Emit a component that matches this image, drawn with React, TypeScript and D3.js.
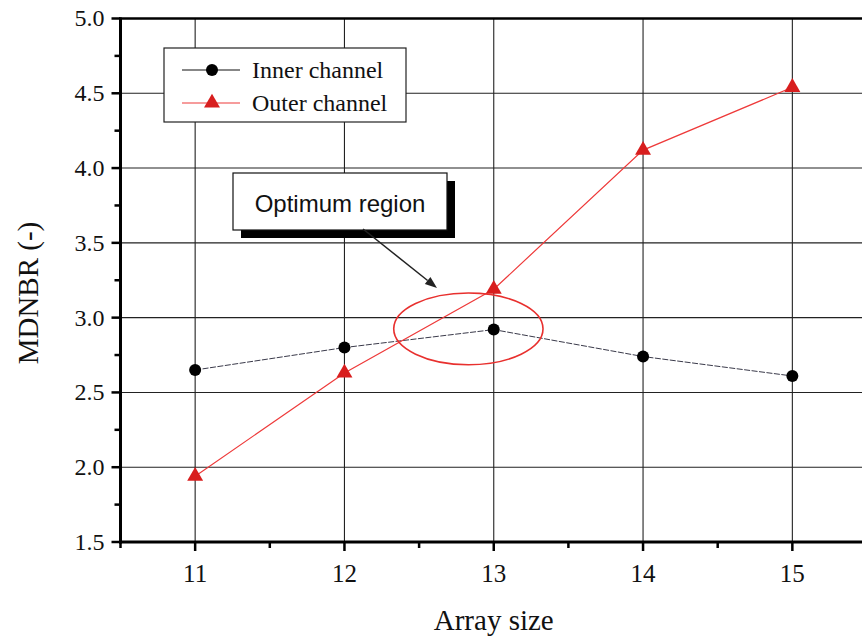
import React from "react";
import * as d3 from "d3";

const arraySizes = [11, 12, 13, 14, 15];
const innerChannel = [2.65, 2.8, 2.92, 2.74, 2.61];
const outerChannel = [1.94, 2.63, 3.19, 4.12, 4.54];
const yTicks = [1.5, 2.0, 2.5, 3.0, 3.5, 4.0, 4.5, 5.0];
const yMinor = [1.75, 2.25, 2.75, 3.25, 3.75, 4.25, 4.75];
const xMinor = [10.5, 11.5, 12.5, 13.5, 14.5];

const W = 862;
const H = 637;

export default function App() {
  const x = d3.scaleLinear().domain([10.5, 15.5]).range([120.5, 867]);
  const y = d3.scaleLinear().domain([1.5, 5]).range([542, 18.5]);
  const left = x(10.5);
  const top = y(5);
  const bottom = y(1.5);

  const line = d3
    .line<number>()
    .x((_, i) => x(arraySizes[i]))
    .y((d) => y(d));

  const tri = d3.symbol().type(d3.symbolTriangle).size(110)();
  const serif = "'Liberation Serif', 'Times New Roman', serif";
  const sans = "'Liberation Sans', Arial, sans-serif";

  // annotation geometry in data space
  const ex = x(12.83);
  const ey = y(2.925);
  const erx = x(13.33) - x(12.83);
  const ery = y(2.925) - y(3.165);

  const boxX = 233, boxY = 173, boxW = 214, boxH = 57;
  const arrowStart = [363, 229];
  const arrowEnd = [437, 288];
  const ang = Math.atan2(arrowEnd[1] - arrowStart[1], arrowEnd[0] - arrowStart[0]);
  const ah = 12, aw = 4.5;
  const ahBase = [arrowEnd[0] - ah * Math.cos(ang), arrowEnd[1] - ah * Math.sin(ang)];
  const ahP1 = [ahBase[0] + aw * Math.sin(ang), ahBase[1] - aw * Math.cos(ang)];
  const ahP2 = [ahBase[0] - aw * Math.sin(ang), ahBase[1] + aw * Math.cos(ang)];

  return (
    <svg
      width={W}
      height={H}
      style={{ position: "absolute", left: 0, top: 0, background: "#fff" }}
    >
      <defs>
        <clipPath id="plot">
          <rect x={left} y={top} width={W - left} height={bottom - top} />
        </clipPath>
      </defs>
      {/* grid */}
      {yTicks.slice(1, -1).map((t) => (
        <line key={"gy" + t} x1={left} x2={W} y1={y(t)} y2={y(t)} stroke="#222" strokeWidth={1.1} />
      ))}
      {arraySizes.map((t) => (
        <line key={"gx" + t} x1={x(t)} x2={x(t)} y1={top} y2={bottom} stroke="#222" strokeWidth={1.1} />
      ))}

      {/* series */}
      <g clipPath="url(#plot)">
        <path d={line(innerChannel) || ""} fill="none" stroke="#3a3a4a" strokeWidth={1} strokeDasharray="6,1.5" />
        <path d={line(outerChannel) || ""} fill="none" stroke="#ee3a3a" strokeWidth={1.2} />
        {innerChannel.map((v, i) => (
          <circle key={"c" + i} cx={x(arraySizes[i])} cy={y(v)} r={6} fill="#000" />
        ))}
        {outerChannel.map((v, i) => (
          <path key={"t" + i} d={tri || ""} transform={`translate(${x(arraySizes[i])},${y(v)})`} fill="#d81e1e" />
        ))}
      </g>

      {/* axes */}
      <line x1={left} x2={left} y1={top - 1} y2={bottom + 1.5} stroke="#000" strokeWidth={3} />
      <line x1={left - 1.5} x2={W} y1={bottom} y2={bottom} stroke="#000" strokeWidth={3} />
      <line x1={left - 1.5} x2={W} y1={top} y2={top} stroke="#000" strokeWidth={2.5} />

      {yTicks.map((t) => (
        <g key={"yt" + t}>
          <line x1={left - 9} x2={left} y1={y(t)} y2={y(t)} stroke="#000" strokeWidth={2.5} />
          <text x={left - 16} y={y(t)} dy="0.33em" textAnchor="end" fontFamily={serif} fontSize={24} fill="#111">
            {t.toFixed(1)}
          </text>
        </g>
      ))}
      {yMinor.map((t) => (
        <line key={"ym" + t} x1={left - 6} x2={left} y1={y(t)} y2={y(t)} stroke="#000" strokeWidth={2.5} />
      ))}
      {arraySizes.map((t) => (
        <g key={"xt" + t}>
          <line x1={x(t)} x2={x(t)} y1={bottom} y2={bottom + 9} stroke="#000" strokeWidth={2.5} />
          <text x={x(t)} y={582} textAnchor="middle" fontFamily={serif} fontSize={25} fill="#111">
            {t}
          </text>
        </g>
      ))}
      {xMinor.map((t) => (
        <line key={"xm" + t} x1={x(t)} x2={x(t)} y1={bottom} y2={bottom + 6} stroke="#000" strokeWidth={2.5} />
      ))}

      {/* axis labels */}
      <text x={x(13)} y={630} textAnchor="middle" fontFamily={serif} fontSize={29} fill="#111">
        Array size
      </text>
      <text
        transform={`translate(38,293) rotate(-90)`}
        textAnchor="middle"
        fontFamily={serif}
        fontSize={29}
        fill="#111"
      >
        MDNBR (-)
      </text>

      {/* legend */}
      <rect x={164} y={48} width={242} height={74} fill="#fff" stroke="#222" strokeWidth={1.2} />
      <line x1={182} x2={240} y1={70} y2={70} stroke="#111" strokeWidth={1.2} />
      <circle cx={212} cy={70} r={6} fill="#000" />
      <text x={252} y={70} dy="0.33em" fontFamily={serif} fontSize={24} fill="#111">
        Inner channel
      </text>
      <line x1={182} x2={240} y1={103} y2={103} stroke="#ee3a3a" strokeWidth={1.2} />
      <path d={tri || ""} transform="translate(212,103)" fill="#d81e1e" />
      <text x={252} y={103} dy="0.33em" fontFamily={serif} fontSize={24} fill="#111">
        Outer channel
      </text>

      {/* annotation */}
      <rect x={boxX + 8} y={boxY + 8} width={boxW} height={boxH} fill="#000" />
      <rect x={boxX} y={boxY} width={boxW} height={boxH} fill="#fff" stroke="#111" strokeWidth={1.2} />
      <text x={boxX + boxW / 2} y={212} textAnchor="middle" fontFamily={sans} fontSize={24} fill="#111">
        Optimum region
      </text>
      <line x1={arrowStart[0]} y1={arrowStart[1]} x2={ahBase[0]} y2={ahBase[1]} stroke="#222" strokeWidth={1.5} />
      <path d={`M${arrowEnd[0]},${arrowEnd[1]}L${ahP1[0]},${ahP1[1]}L${ahP2[0]},${ahP2[1]}Z`} fill="#222" />
      <ellipse cx={ex} cy={ey} rx={erx} ry={ery} fill="none" stroke="#e8302e" strokeWidth={1.6} />
    </svg>
  );
}
